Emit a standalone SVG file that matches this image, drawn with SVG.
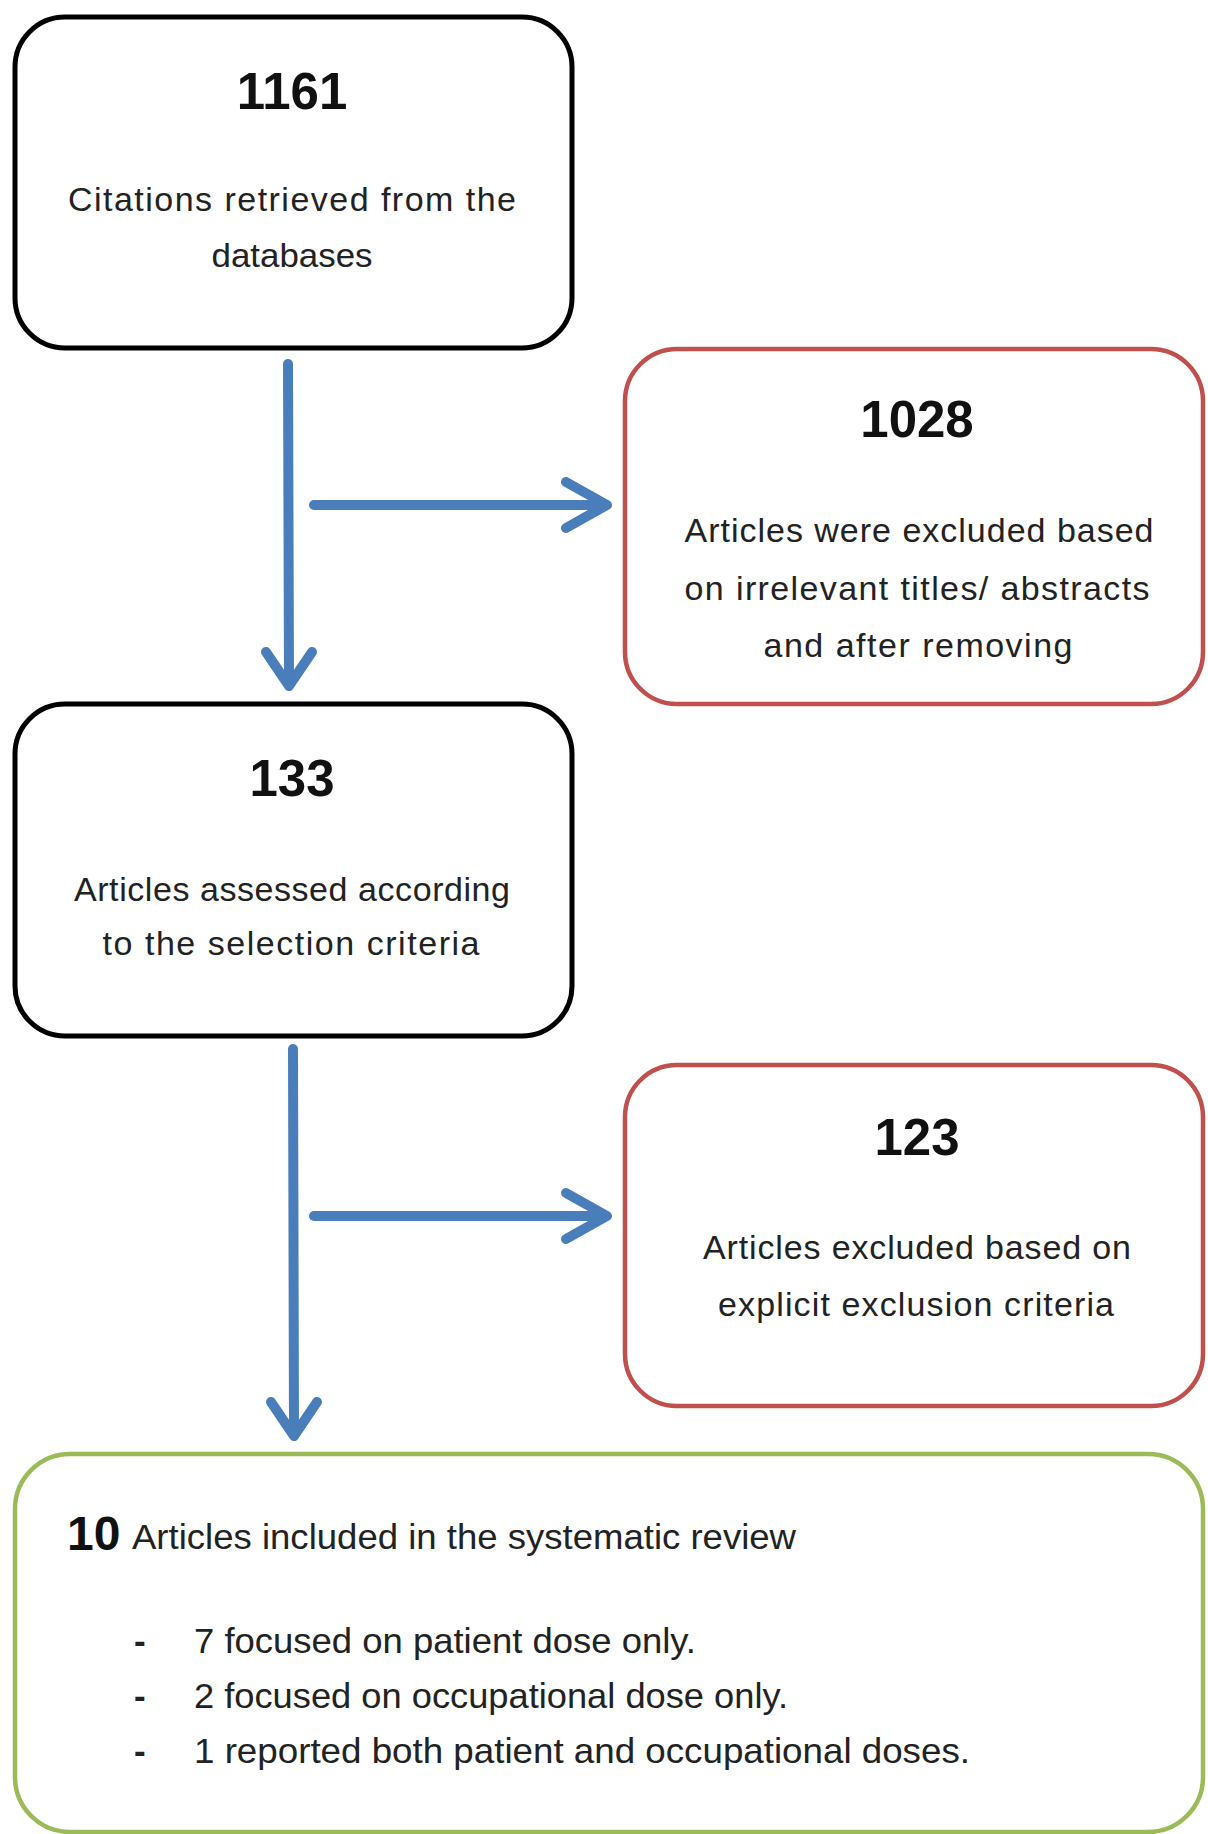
<svg xmlns="http://www.w3.org/2000/svg" width="1208" height="1834" viewBox="0 0 1208 1834">
<style>
.box{fill:#ffffff;}
.blk{stroke:#000000;stroke-width:5;}
.red{stroke:#C0504D;stroke-width:4.5;}
.grn{stroke:#9BBB59;stroke-width:4.5;}
.num{font-family:"Liberation Sans",Arial,sans-serif;font-weight:bold;font-size:51px;fill:#111;text-anchor:middle;}
.t{font-family:"Liberation Sans",Arial,sans-serif;font-size:34px;fill:#222;text-anchor:middle;}
.tl{font-family:"Liberation Sans",Arial,sans-serif;font-size:35px;fill:#222;}
.arr{fill:none;stroke:#4A7EBB;stroke-width:10;stroke-linecap:round;stroke-linejoin:round;}
</style>
<rect width="1208" height="1834" fill="#ffffff"/>
<g id="connectors">
<line class="arr" x1="288" y1="364" x2="289" y2="684"/>
<polyline class="arr" points="266,652 289,686 312,652"/>
<line class="arr" x1="314" y1="505" x2="604" y2="505"/>
<polyline class="arr" points="566,482 607,505 566,528"/>
<line class="arr" x1="293" y1="1049" x2="294" y2="1434"/>
<polyline class="arr" points="271,1402 294,1436 317,1402"/>
<line class="arr" x1="314" y1="1216" x2="604" y2="1216"/>
<polyline class="arr" points="566,1193 607,1216 566,1239"/>
</g>
<g id="node1161">
<rect class="box blk" x="15" y="17" width="557" height="331" rx="50" ry="50"/>
<text class="num" x="292" y="109">1161</text>
<text class="t" x="292" y="211" textLength="448" lengthAdjust="spacing">Citations retrieved from the</text>
<text class="t" x="292" y="267" textLength="161" lengthAdjust="spacingAndGlyphs">databases</text>
</g>
<g id="node1028">
<rect class="box red" x="625" y="349" width="578" height="355" rx="52" ry="52"/>
<text class="num" x="917" y="437">1028</text>
<text class="t" x="919" y="542" textLength="469" lengthAdjust="spacing">Articles were excluded based</text>
<text class="t" x="917" y="600" textLength="465" lengthAdjust="spacing">on irrelevant titles/ abstracts</text>
<text class="t" x="918" y="657" textLength="309" lengthAdjust="spacing">and after removing</text>
</g>
<g id="node133">
<rect class="box blk" x="15" y="704" width="557" height="332" rx="50" ry="50"/>
<text class="num" x="292" y="796">133</text>
<text class="t" x="292" y="901" textLength="436" lengthAdjust="spacing">Articles assessed according</text>
<text class="t" x="291" y="955" textLength="377" lengthAdjust="spacing">to the selection criteria</text>
</g>
<g id="node123">
<rect class="box red" x="625" y="1065" width="578" height="341" rx="52" ry="52"/>
<text class="num" x="917" y="1155">123</text>
<text class="t" x="917" y="1259" textLength="428" lengthAdjust="spacing">Articles excluded based on</text>
<text class="t" x="916" y="1316" textLength="396" lengthAdjust="spacing">explicit exclusion criteria</text>
</g>
<g id="node10">
<rect class="box grn" x="15" y="1454" width="1188" height="378" rx="55" ry="55"/>
<text class="num" x="67" y="1550" style="text-anchor:start;font-size:48px">10</text>
<text class="tl" x="132" y="1549" textLength="664" lengthAdjust="spacingAndGlyphs">Articles included in the systematic review</text>
<text class="tl" x="134" y="1653" style="font-weight:bold">-</text>
<text class="tl" x="194" y="1653" textLength="502" lengthAdjust="spacingAndGlyphs">7 focused on patient dose only.</text>
<text class="tl" x="134" y="1708" style="font-weight:bold">-</text>
<text class="tl" x="194" y="1708" textLength="594" lengthAdjust="spacingAndGlyphs">2 focused on occupational dose only.</text>
<text class="tl" x="134" y="1763" style="font-weight:bold">-</text>
<text class="tl" x="194" y="1763" textLength="776" lengthAdjust="spacingAndGlyphs">1 reported both patient and occupational doses.</text>
</g>
</svg>
